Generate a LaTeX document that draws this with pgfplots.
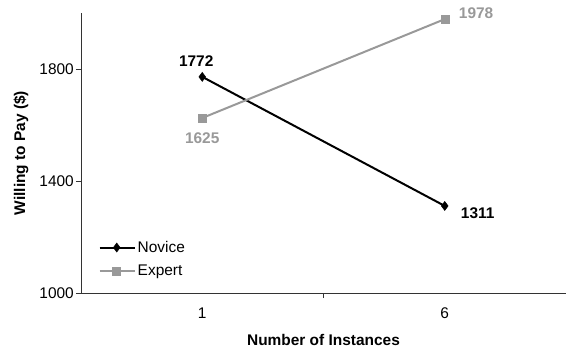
\documentclass[border=0pt]{standalone}
\usepackage{fontspec}
\setmainfont{Liberation Sans}
\usepackage{pgfplots}
\pgfplotsset{compat=1.18}

\definecolor{expertgray}{RGB}{153,153,153}

\pgfplotsset{
  novice style/.style={black, line width=2bp, mark=diamond*,
    mark options={solid, mark size=4.5bp, line width=0.5bp}},
  expert style/.style={expertgray, line width=2bp, mark=square*,
    mark options={solid, mark size=4bp, line width=0.5bp}},
  % value labels: one invisible plot per label, placed by anchor and shift
  value label/.style n args={4}{draw=none, mark=none, forget plot,
    nodes near coords, point meta=y,
    every node near coord/.append style={anchor=#1, text=#2,
      xshift=#3, yshift=#4,
      font=\fontsize{15.5}{18}\selectfont\bfseries, inner sep=0bp}},
}

\begin{document}
\begin{tikzpicture}
\begin{axis}[
  scale only axis,
  width=485bp, height=280bp,
  xmin=-0.5, xmax=1.5,
  ymin=1000, ymax=2000,
  axis lines=left,
  axis line style={-, line width=0.8bp, color=black!80},
  font=\fontsize{15.5}{18}\selectfont,
  xtick={0,1}, xticklabels={1,6},
  major x tick style={draw=none},
  minor xtick={0.5,1.5},
  minor x tick style={line width=0.8bp, color=black!80},
  minor tick length=5bp,
  ytick={1000,1400,1800},
  y tick style={line width=0.8bp, color=black!80},
  major tick length=5bp,
  tick align=outside,
  yticklabel style={anchor=east, inner sep=0pt, xshift=-2bp},
  xticklabel style={anchor=center, yshift=-15bp},
  /pgf/number format/assume math mode=true,
  /pgf/number format/1000 sep={},
  xlabel={\bfseries Number of Instances},
  ylabel={\bfseries Willing to Pay (\$)},
  xlabel style={at={(axis description cs:0.5,0)}, anchor=center, yshift=-47bp},
  ylabel style={at={(axis description cs:0,0.5)}, anchor=center, yshift=60bp},
  legend style={at={(0.03,0.2)}, anchor=north west, draw=none, fill=none,
    font=\fontsize{15.5}{18}\selectfont, row sep=7bp},
  legend cell align=left,
  legend image code/.code={
    \draw[mark repeat=2, mark phase=2]
      plot coordinates {(0bp,0bp) (17bp,0bp) (35bp,0bp)};},
  clip=false,
]
% x: 0 = 1 instance, 1 = 6 instances
\addplot[novice style] coordinates {(0,1772) (1,1311)};
\addlegendentry{Novice}
\addplot[expert style] coordinates {(0,1625) (1,1978)};
\addlegendentry{Expert}

\addplot[value label={south}{black}{-6bp}{10bp}] coordinates {(0,1772)};
\addplot[value label={west}{black}{16bp}{-7bp}] coordinates {(1,1311)};
\addplot[value label={north}{expertgray}{0bp}{-15bp}] coordinates {(0,1625)};
\addplot[value label={west}{expertgray}{14bp}{6bp}] coordinates {(1,1978)};
\end{axis}
\pgfresetboundingbox
\path ([shift={(-81bp,-61bp)}]current axis.south west)
  rectangle ([shift={(0bp,13bp)}]current axis.north east);
\end{tikzpicture}
\end{document}
